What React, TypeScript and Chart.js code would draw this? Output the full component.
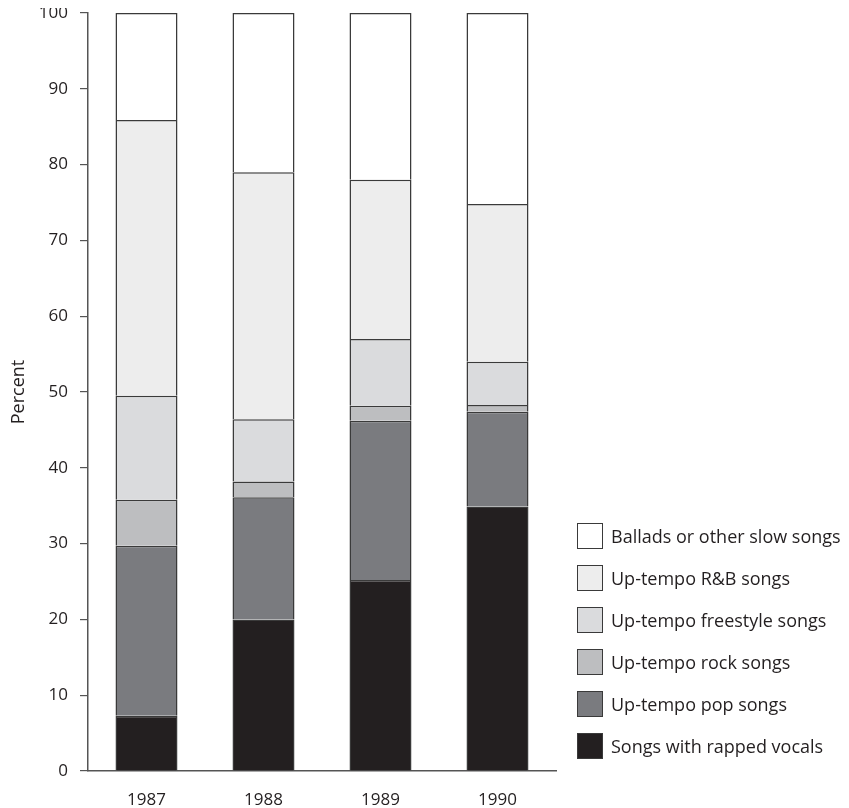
import React, { useEffect, useRef } from "react";
import { Chart, registerables } from "chart.js";

Chart.register(...registerables);

const years = ["1987", "1988", "1989", "1990"];
const rapped = [7.3, 20.0, 25.2, 34.9];
const pop = [22.4, 16.1, 21.0, 12.5];
const rock = [6.1, 2.1, 2.0, 0.9];
const freestyle = [13.7, 8.2, 8.8, 5.7];
const rnb = [36.4, 32.6, 21.0, 20.8];
const ballads = [14.1, 21.0, 22.0, 25.2];

const seriesNames = [
  "Songs with rapped vocals",
  "Up-tempo pop songs",
  "Up-tempo rock songs",
  "Up-tempo freestyle songs",
  "Up-tempo R&B songs",
  "Ballads or other slow songs",
];
const seriesColors = ["#231f20", "#7a7b7f", "#bdbec0", "#dadbdd", "#ededed", "#ffffff"];
const seriesValues = [rapped, pop, rock, freestyle, rnb, ballads];

const FONT = "'Open Sans', sans-serif";
const INK = "#231f20";

export default function App() {
  const ref = useRef<HTMLCanvasElement | null>(null);

  useEffect(() => {
    if (!ref.current) return;
    const chart = new Chart(ref.current, {
      type: "bar",
      data: {
        labels: years,
        datasets: seriesNames.map((name, i) => ({
          label: name,
          data: seriesValues[i],
          backgroundColor: seriesColors[i],
          borderColor: "#3a3a3a",
          borderWidth: 1.5,
          barPercentage: 1,
          categoryPercentage: 0.53,
        })),
      },
      options: {
        responsive: false,
        animation: false,
        layout: { padding: { top: 13, right: 285, left: 0, bottom: 0 } },
        plugins: { legend: { display: false }, tooltip: { enabled: false } },
        scales: {
          x: {
            stacked: true,
            grid: { display: false },
            border: { display: true, color: "#555", width: 1.5 },
            ticks: { color: INK, font: { family: FONT, size: 17 }, padding: 11 },
            afterFit: (s: any) => {
              s.height = 37;
              s.paddingLeft = 0;
              s.paddingRight = 0;
            },
          },
          y: {
            stacked: true,
            min: 0,
            max: 100,
            ticks: { stepSize: 10, color: INK, font: { family: FONT, size: 17 }, padding: 12 },
            grid: { display: true, drawOnChartArea: false, drawTicks: true, tickLength: 8, color: "#555", lineWidth: 1.2 },
            border: { display: true, color: "#555", width: 1.5 },
            title: { display: true, text: "Percent", color: INK, font: { family: FONT, size: 18 }, padding: 0 },
            afterFit: (s: any) => {
              s.width = 80;
              s.paddingTop = 0;
              s.paddingBottom = 0;
            },
          },
        },
      },
    });
    return () => chart.destroy();
  }, []);

  const legendOrder = [5, 4, 3, 2, 1, 0];

  return (
    <div style={{ position: "relative", width: 833, height: 808, marginTop: -8 }}>
      <canvas ref={ref} width={833} height={808} style={{ display: "block" }} />
      <div style={{ position: "absolute", left: 569, top: 523, fontFamily: FONT, fontSize: 18, color: INK }}>
        {legendOrder.map((idx, k) => (
          <div key={k} style={{ display: "flex", alignItems: "center", height: 26, marginBottom: k < 5 ? 16 : 0 }}>
            <div
              style={{
                width: 24,
                height: 24,
                background: seriesColors[idx],
                border: "1.5px solid #3a3a3a",
                marginRight: 8,
                flex: "0 0 auto",
              }}
            />
            <span style={{ whiteSpace: "nowrap" }}>{seriesNames[idx]}</span>
          </div>
        ))}
      </div>
    </div>
  );
}
